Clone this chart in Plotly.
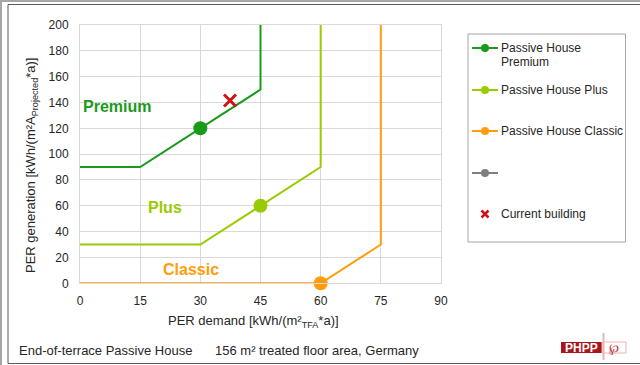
import plotly.graph_objects as go

W, H = 640, 365

# Certification boundaries: PER demand (x) vs. PER generation (y)
premium_x = [0, 15, 45, 45]
premium_y = [90, 90, 150, 200]
plus_x = [0, 30, 60, 60]
plus_y = [30, 30, 90, 200]
classic_x = [0, 60, 75, 75]
classic_y = [0, 0, 30, 200]

# Reference points on each boundary
ref_x = [30, 45, 60]
ref_y = [120, 60, 0]

# Current building result
current_x = [37.4]
current_y = [141.5]

x_ticks = [0, 15, 30, 45, 60, 75, 90]
y_ticks = [0, 20, 40, 60, 80, 100, 120, 140, 160, 180, 200]

GREEN = "#1a9a1a"
LIME = "#99cc00"
ORANGE = "#ff9d0a"
GREY = "#7f7f7f"
RED = "#cc1414"
TEXT = "#262626"
FONT = "Liberation Sans, Arial, sans-serif"


def px(x):
    return x / W


def py(y):
    return 1 - y / H


fig = go.Figure()

series = [
    ("Passive House Premium", premium_x, premium_y, GREEN, 0),
    ("Passive House Plus", plus_x, plus_y, LIME, 1),
    ("Passive House Classic", classic_x, classic_y, ORANGE, 2),
]
for name, xs, ys, col, i in series:
    fig.add_trace(go.Scatter(
        x=xs, y=ys, mode="lines", name=name, showlegend=False,
        line=dict(color=col, width=2), cliponaxis=False, hoverinfo="skip"))
    fig.add_trace(go.Scatter(
        x=[ref_x[i]], y=[ref_y[i]], mode="markers", showlegend=False,
        marker=dict(color=col, size=14), cliponaxis=False, hoverinfo="skip"))

fig.add_trace(go.Scatter(
    x=current_x, y=current_y, mode="markers", name="Current building",
    showlegend=False, cliponaxis=False, hoverinfo="skip",
    marker=dict(symbol="x-thin", size=12, line=dict(color=RED, width=3))))

# Legend swatches drawn on a hidden pixel-scaled axis pair
leg_rows = [
    (48, GREEN, ["Passive House", "Premium"]),
    (90, LIME, ["Passive House Plus"]),
    (131, ORANGE, ["Passive House Classic"]),
    (173, GREY, []),
]
for yy, col, lines in leg_rows:
    fig.add_trace(go.Scatter(
        x=[472, 498], y=[yy, yy], mode="lines", xaxis="x2", yaxis="y2",
        line=dict(color=col, width=2), showlegend=False, hoverinfo="skip",
        cliponaxis=False))
    fig.add_trace(go.Scatter(
        x=[485], y=[yy], mode="markers", xaxis="x2", yaxis="y2",
        marker=dict(color=col, size=8), showlegend=False, hoverinfo="skip",
        cliponaxis=False))
fig.add_trace(go.Scatter(
    x=[485], y=[214], mode="markers", xaxis="x2", yaxis="y2",
    marker=dict(symbol="x-thin", size=7, line=dict(color=RED, width=2.5)),
    showlegend=False, hoverinfo="skip", cliponaxis=False))

annotations = []
for yy, col, lines in leg_rows:
    for k, t in enumerate(lines):
        annotations.append(dict(
            x=499, y=yy + k * 14, xref="x2", yref="y2", text=t,
            showarrow=False, xanchor="left", yanchor="middle",
            font=dict(size=12, color=TEXT, family=FONT)))
annotations.append(dict(
    x=499, y=214, xref="x2", yref="y2", text="Current building",
    showarrow=False, xanchor="left", yanchor="middle",
    font=dict(size=12, color=TEXT, family=FONT)))

# Class labels inside the plot
for t, x, y, col in [("Premium", 9.3, 137, GREEN), ("Plus", 21.2, 59, LIME),
                     ("Classic", 27.6, 10.8, ORANGE)]:
    annotations.append(dict(
        x=x, y=y, xref="x", yref="y", text=f"<b>{t}</b>", showarrow=False,
        xanchor="center", yanchor="middle",
        font=dict(size=16, color=col, family=FONT)))

# Axis titles
annotations.append(dict(
    x=px(253.5), y=py(321), xref="paper", yref="paper",
    text="PER demand [kWh/(m²<sub>TFA</sub>*a)]", showarrow=False,
    xanchor="center", yanchor="middle",
    font=dict(size=13, color=TEXT, family=FONT)))
annotations.append(dict(
    x=px(31), y=py(166), xref="paper", yref="paper", textangle=-90,
    text="PER generation [kWh/(m²A<sub>Projected</sub>*a)]", showarrow=False,
    xanchor="center", yanchor="middle",
    font=dict(size=13, color=TEXT, family=FONT)))

# Footer
annotations.append(dict(
    x=px(17), y=py(350), xref="paper", yref="paper",
    text="End-of-terrace Passive House", showarrow=False,
    xanchor="left", yanchor="middle",
    font=dict(size=13, color=TEXT, family=FONT)))
annotations.append(dict(
    x=px(213), y=py(350), xref="paper", yref="paper",
    text="156 m² treated floor area, Germany", showarrow=False,
    xanchor="left", yanchor="middle",
    font=dict(size=13, color=TEXT, family=FONT)))
annotations.append(dict(
    x=px(581.5), y=py(347.5), xref="paper", yref="paper",
    text="<b>PHPP</b>", showarrow=False, xanchor="center", yanchor="middle",
    font=dict(size=12, color="white", family=FONT)))
annotations.append(dict(
    x=px(614), y=py(347.5), xref="paper", yref="paper",
    text="℘", showarrow=False, xanchor="center", yanchor="middle",
    font=dict(size=12, color="#c0282d", family="DejaVu Serif")))

shapes = [
    # outer frames
    dict(type="rect", xref="paper", yref="paper", x0=px(1), x1=px(700),
         y0=py(1), y1=py(700), line=dict(color="#a6a6a6", width=2)),
    dict(type="rect", xref="paper", yref="paper", x0=px(8), x1=px(700),
         y0=py(4.5), y1=py(363.5), line=dict(color="#595959", width=1)),
    # legend box
    dict(type="rect", xref="paper", yref="paper", x0=px(468), x1=px(625.5),
         y0=py(34), y1=py(242), line=dict(color="#a6a6a6", width=1)),
    # PHPP badge
    dict(type="rect", xref="paper", yref="paper", x0=px(561), x1=px(602),
         y0=py(342), y1=py(353), fillcolor="#a8161c", line=dict(width=0)),
    dict(type="rect", xref="paper", yref="paper", x0=px(602), x1=px(626),
         y0=py(342), y1=py(353), fillcolor="white",
         line=dict(color="#eab4b4", width=1)),
    dict(type="line", xref="paper", yref="paper", x0=px(603.5), x1=px(603.5),
         y0=py(333), y1=py(360), line=dict(color="#eab4b4", width=2)),
]

axis_common = dict(
    showgrid=True, gridcolor="#d9d9d9", gridwidth=1, zeroline=False,
    showline=True, linecolor="#d9d9d9", linewidth=1, mirror=True,
    ticks="", tickfont=dict(size=12, color=TEXT, family=FONT),
    fixedrange=True, automargin=False)

fig.update_layout(
    template="none",
    width=W, height=H,
    margin=dict(l=0, r=0, t=0, b=0, pad=0, autoexpand=False),
    paper_bgcolor="white", plot_bgcolor="white", showlegend=False,
    font=dict(family=FONT, size=12, color=TEXT),
    xaxis=dict(domain=[px(80), px(441)], range=[0, 90], tickvals=x_ticks,
               ticklabelstandoff=6, **axis_common),
    yaxis=dict(domain=[py(283.3), py(25)], range=[0, 200], tickvals=y_ticks,
               ticklabelstandoff=8, **axis_common),
    xaxis2=dict(domain=[px(468), px(626)], range=[468, 626], visible=False,
                fixedrange=True, anchor="y2", automargin=False),
    yaxis2=dict(domain=[py(242), py(34)], range=[242, 34], visible=False,
                fixedrange=True, anchor="x2", automargin=False),
    annotations=annotations, shapes=shapes,
)

fig.write_html(
    "out.html",
    config={"displayModeBar": False},
    post_script="document.body.style.margin='0';"
                "document.body.style.overflow='hidden';",
)
